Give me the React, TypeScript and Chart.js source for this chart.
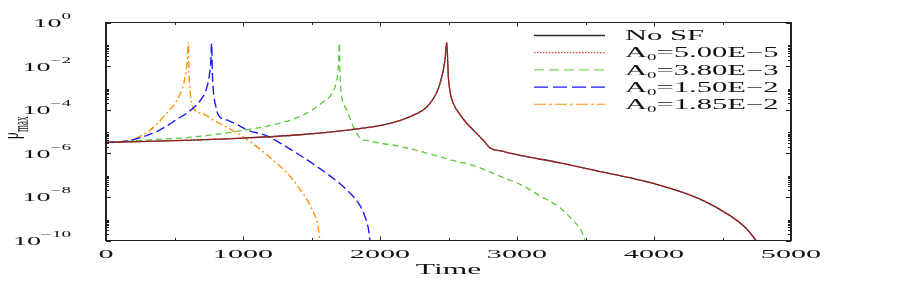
import React, { useEffect, useRef } from "react";
import { Chart, registerables } from "chart.js";

Chart.register(...registerables);

// ---------- data ----------
const xTickValues = [0, 1000, 2000, 3000, 4000, 5000];
const yTickExponents = [0, -2, -4, -6, -8, -10];

const seriesLabels = ["No SF", "A₀=5.00E−5", "A₀=3.80E−3", "A₀=1.50E−2", "A₀=1.85E−2"];

const noSfTime = [0, 500, 1000, 1416, 1781, 2022, 2219, 2365, 2438, 2474, 2487, 2499, 2512, 2535, 2570, 2633, 2700, 2760, 2803, 2900, 2998, 3314, 3533, 4019, 4336, 4555, 4677, 4745];
const noSfRho = [3.16e-6, 3.8e-6, 5.01e-6, 7.08e-6, 1.2e-5, 2.0e-5, 4.79e-5, 1.95e-4, 1.58e-3, 1.82e-2, 0.123, 3.16e-3, 6.31e-4, 1.95e-4, 7.94e-5, 2.4e-5, 8.91e-6, 3.55e-6, 1.78e-6, 1.23e-6, 8.71e-7, 3.63e-7, 1.82e-7, 3.8e-8, 7.94e-9, 1.38e-9, 3.39e-10, 1e-10];

const a5e5Time = [0, 500, 1000, 1416, 1781, 2022, 2219, 2365, 2438, 2474, 2487, 2499, 2512, 2535, 2570, 2633, 2700, 2760, 2803, 2900, 2998, 3314, 3533, 4019, 4336, 4555, 4677, 4745];
const a5e5Rho = [3.16e-6, 3.8e-6, 5.01e-6, 7.08e-6, 1.2e-5, 2.0e-5, 4.79e-5, 1.95e-4, 1.58e-3, 1.82e-2, 0.123, 3.16e-3, 6.31e-4, 1.95e-4, 7.94e-5, 2.4e-5, 8.91e-6, 3.55e-6, 1.78e-6, 1.23e-6, 8.71e-7, 3.63e-7, 1.82e-7, 3.8e-8, 7.94e-9, 1.38e-9, 3.39e-10, 1e-10];

const a38e3Time = [0, 150, 321, 540, 783, 1027, 1270, 1465, 1586, 1650, 1680, 1696, 1703, 1708, 1715, 1757, 1805, 1854, 1903, 2000, 2146, 2330, 2511, 2700, 2876, 3030, 3168, 3314, 3411, 3470, 3496];
const a38e3Rho = [3.16e-6, 3.55e-6, 4.17e-6, 5.01e-6, 7.08e-6, 1.2e-5, 2.4e-5, 6.92e-5, 2.29e-4, 5.62e-4, 1.78e-3, 1.0e-2, 0.112, 5.01e-3, 7.94e-4, 1.0e-4, 1.7e-5, 5.01e-6, 3.89e-6, 2.95e-6, 2.09e-6, 1.07e-6, 5.13e-7, 2.51e-7, 8.91e-8, 3.55e-8, 1.12e-8, 3.16e-9, 7.94e-10, 2.82e-10, 1e-10];

const a15e2Time = [0, 100, 199, 394, 540, 589, 686, 735, 755, 765, 771, 776, 783, 800, 820, 881, 978, 1027, 1173, 1367, 1538, 1708, 1800, 1854, 1890, 1915, 1927];
const a15e2Rho = [3.16e-6, 3.39e-6, 4.17e-6, 1.2e-5, 4.47e-5, 6.92e-5, 2.51e-4, 1.0e-3, 3.98e-3, 1.58e-2, 0.112, 6.31e-3, 7.94e-4, 1.58e-4, 5.75e-5, 3.39e-5, 1.78e-5, 1.2e-5, 6.31e-6, 1.26e-6, 2.51e-7, 3.98e-8, 1.12e-8, 3.98e-9, 1.26e-9, 3.55e-10, 1e-10];

const a185e2Time = [0, 100, 200, 320, 440, 540, 575, 592, 601, 606, 613, 637, 700, 783, 880, 978, 1070, 1173, 1270, 1350, 1416, 1470, 1513, 1545, 1562];
const a185e2Rho = [3.16e-6, 3.39e-6, 4.47e-6, 1.12e-5, 6.61e-5, 5.01e-4, 2.51e-3, 1.41e-2, 0.123, 5.01e-3, 7.94e-4, 1.15e-4, 6.76e-5, 3.39e-5, 1.58e-5, 7.08e-6, 2.82e-6, 8.71e-7, 2.57e-7, 7.94e-8, 2.24e-8, 7.08e-9, 2.0e-9, 5.62e-10, 1e-10];

// ---------- styling ----------
const FONT = '"Liberation Serif", "Times New Roman", serif';
const SX = 2.25; // horizontal stretch of the text, as in the reference
const TEXT_COLOR = "#111";
const AXIS_COLOR = "#222";

const toPoints = (xs: number[], ys: number[]) => xs.map((x, i) => ({ x, y: ys[i] }));

type Part = { t: string; size: number; dy: number };

function partsWidth(ctx: CanvasRenderingContext2D, parts: Part[]) {
  let w = 0;
  for (const p of parts) {
    ctx.font = `${p.size}px ${FONT}`;
    w += ctx.measureText(p.t).width;
  }
  return w;
}

function drawParts(
  ctx: CanvasRenderingContext2D,
  parts: Part[],
  x: number,
  baseline: number,
  align: "left" | "center" | "right"
) {
  const total = partsWidth(ctx, parts) * SX;
  const start = align === "right" ? x - total : align === "center" ? x - total / 2 : x;
  ctx.save();
  ctx.translate(start, baseline);
  ctx.scale(SX, 1);
  ctx.fillStyle = TEXT_COLOR;
  ctx.textAlign = "left";
  ctx.textBaseline = "alphabetic";
  let cx = 0;
  for (const p of parts) {
    ctx.font = `${p.size}px ${FONT}`;
    ctx.fillText(p.t, cx, p.dy);
    cx += ctx.measureText(p.t).width;
  }
  ctx.restore();
}

function labelParts(label: string, size: number): Part[] {
  const idx = label.indexOf("₀");
  if (idx < 0) return [{ t: label, size, dy: 0 }];
  return [
    { t: label.slice(0, idx), size, dy: 0 },
    { t: "0", size: size * 0.62, dy: 3 },
    { t: label.slice(idx + 1), size, dy: 0 },
  ];
}

const framePlugin = {
  id: "frameAndText",
  afterDatasetsDraw(chart: any) {
    const ctx: CanvasRenderingContext2D = chart.ctx;
    const { left, right, top, bottom } = chart.chartArea;
    const xs = chart.scales.x;
    const ys = chart.scales.y;
    ctx.save();
    ctx.strokeStyle = AXIS_COLOR;
    ctx.lineCap = "butt";

    // frame
    ctx.lineWidth = 1.2;
    ctx.beginPath();
    ctx.moveTo(left, top);
    ctx.lineTo(right, top);
    ctx.moveTo(left, bottom);
    ctx.lineTo(right, bottom);
    ctx.stroke();
    ctx.lineWidth = 2;
    ctx.beginPath();
    ctx.moveTo(left, top - 0.6);
    ctx.lineTo(left, bottom + 0.6);
    ctx.moveTo(right, top - 0.6);
    ctx.lineTo(right, bottom + 0.6);
    ctx.stroke();

    // x ticks (inward, top and bottom)
    ctx.lineWidth = 1;
    ctx.beginPath();
    for (let v = xs.min; v <= xs.max; v += 500) {
      const px = Math.round(xs.getPixelForValue(v)) + 0.5;
      const len = v % 1000 === 0 ? 4 : 2.5;
      ctx.moveTo(px, bottom);
      ctx.lineTo(px, bottom - len);
      ctx.moveTo(px, top);
      ctx.lineTo(px, top + len);
    }
    ctx.stroke();

    // y ticks (inward, left and right)
    ctx.beginPath();
    for (const e of yTickExponents) {
      const py = Math.round(ys.getPixelForValue(Math.pow(10, e))) + 0.5;
      ctx.moveTo(left, py);
      ctx.lineTo(left + 5, py);
      ctx.moveTo(right, py);
      ctx.lineTo(right - 5, py);
      if (e < 0) {
        for (let k = 2; k <= 9; k++) {
          const pm = Math.round(ys.getPixelForValue(k * Math.pow(10, e))) + 0.5;
          ctx.moveTo(left, pm);
          ctx.lineTo(left + 3, pm);
          ctx.moveTo(right, pm);
          ctx.lineTo(right - 3, pm);
        }
      }
    }
    ctx.stroke();
    ctx.restore();

    // x tick labels
    for (const v of xTickValues) {
      drawParts(ctx, [{ t: String(v), size: 13.4, dy: 0 }], xs.getPixelForValue(v), bottom + 17.5, "center");
    }
    // y tick labels: 10^e
    for (const e of yTickExponents) {
      const py = ys.getPixelForValue(Math.pow(10, e));
      const exp = e === 0 ? "0" : "−" + String(-e);
      drawParts(
        ctx,
        [
          { t: "10", size: 12.5, dy: 0 },
          { t: exp, size: 8.5, dy: -8 },
        ],
        71,
        py + 4.5,
        "right"
      );
    }
    // x title
    drawParts(ctx, [{ t: "Time", size: 14, dy: 0 }], (left + right) / 2, 274, "center");

    // y title (rotated, stretched along page x)
    ctx.save();
    ctx.translate(18, 139);
    ctx.rotate(-Math.PI / 2);
    ctx.scale(1, SX);
    ctx.fillStyle = TEXT_COLOR;
    ctx.textBaseline = "alphabetic";
    ctx.textAlign = "left";
    ctx.font = `13px ${FONT}`;
    ctx.fillText("ρ", 0, 0);
    const rw = ctx.measureText("ρ").width;
    ctx.font = `9px ${FONT}`;
    ctx.fillText("max", rw + 0.5, 4.5);
    ctx.restore();

    // legend
    const ds = chart.data.datasets;
    ds.forEach((d: any, i: number) => {
      const ly = 35.5 + 17.2 * i;
      ctx.save();
      ctx.strokeStyle = d.borderColor;
      ctx.lineWidth = d.legendWidth;
      ctx.setLineDash(d.legendDash);
      ctx.beginPath();
      ctx.moveTo(534, ly);
      ctx.lineTo(605, ly);
      ctx.stroke();
      ctx.restore();
      drawParts(ctx, labelParts(d.label, 13.6), 625, ly + 4.6, "left");
    });
  },
};

export default function App() {
  const ref = useRef<HTMLCanvasElement | null>(null);

  useEffect(() => {
    if (!ref.current) return;
    const common = {
      pointRadius: 0,
      pointHoverRadius: 0,
      fill: false,
      cubicInterpolationMode: "monotone" as const,
    };
    const chart = new Chart(ref.current, {
      type: "line",
      data: {
        datasets: [
          {
            ...common,
            label: seriesLabels[0],
            data: toPoints(noSfTime, noSfRho),
            borderColor: "#2e2e2e",
            borderWidth: 1.3,
            order: 2,
            legendDash: [],
            legendWidth: 1.4,
          } as any,
          {
            ...common,
            label: seriesLabels[1],
            data: toPoints(a5e5Time, a5e5Rho),
            borderColor: "#e01515",
            borderWidth: 1.3,
            borderDash: [2, 1.5],
            order: 1,
            legendDash: [1.5, 1.5],
            legendWidth: 1,
          } as any,
          {
            ...common,
            label: seriesLabels[2],
            data: toPoints(a38e3Time, a38e3Rho),
            borderColor: "#5cc83a",
            borderWidth: 1.3,
            borderDash: [6, 4],
            order: 3,
            legendDash: [10, 5],
            legendWidth: 1,
          } as any,
          {
            ...common,
            label: seriesLabels[3],
            data: toPoints(a15e2Time, a15e2Rho),
            borderColor: "#1a1aff",
            borderWidth: 1.4,
            borderDash: [9, 4],
            order: 4,
            legendDash: [14, 5],
            legendWidth: 1.1,
          } as any,
          {
            ...common,
            label: seriesLabels[4],
            data: toPoints(a185e2Time, a185e2Rho),
            borderColor: "#ff9010",
            borderWidth: 1.4,
            borderDash: [7, 3, 2, 3],
            order: 5,
            legendDash: [12, 3, 3, 3],
            legendWidth: 1.1,
          } as any,
        ],
      },
      options: {
        responsive: false,
        animation: false,
        parsing: true as any,
        layout: { padding: { left: 106, right: 106, top: 22.5, bottom: 50.5 } },
        plugins: {
          legend: { display: false },
          tooltip: { enabled: false },
        },
        events: [],
        scales: {
          x: { type: "linear", min: 0, max: 5000, display: false },
          y: { type: "logarithmic", min: 1e-10, max: 1, display: false },
        },
      },
      plugins: [framePlugin],
    });
    return () => chart.destroy();
  }, []);

  return (
    <div style={{ margin: -8 }}>
      <canvas ref={ref} width={897} height={291} style={{ display: "block" }} />
    </div>
  );
}
